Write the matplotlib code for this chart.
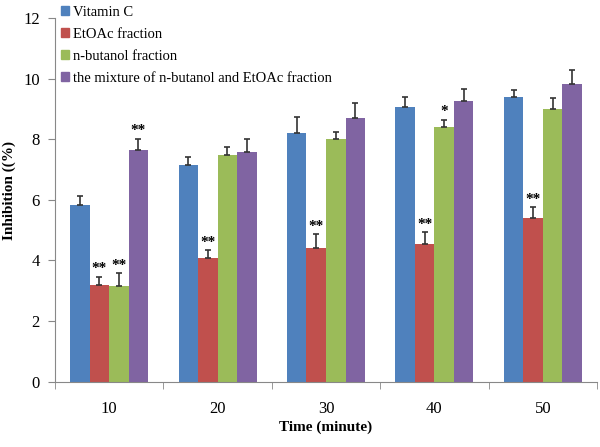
import matplotlib
matplotlib.use("Agg")
import matplotlib.pyplot as plt
import numpy as np
from matplotlib.patches import Patch

times = ["10", "20", "30", "40", "50"]
series_names = ["Vitamin C", "EtOAc fraction", "n-butanol fraction",
                "the mixture of n-butanol and EtOAc fraction"]
vitamin_c = [5.82, 7.15, 8.21, 9.07, 9.38]
vitamin_c_err = [0.32, 0.27, 0.51, 0.32, 0.25]
etoac = [3.20, 4.07, 4.40, 4.55, 5.39]
etoac_err = [0.27, 0.26, 0.46, 0.38, 0.37]
butanol = [3.15, 7.47, 8.01, 8.39, 9.01]
butanol_err = [0.43, 0.28, 0.23, 0.25, 0.36]
mixture = [7.66, 7.58, 8.71, 9.26, 9.81]
mixture_err = [0.36, 0.42, 0.47, 0.40, 0.49]

# significance marks
vitamin_c_sig = ["", "", "", "", ""]
etoac_sig = ["**", "**", "**", "**", "**"]
butanol_sig = ["**", "", "", "*", ""]
mixture_sig = ["**", "", "", "", ""]

colors = ["#4F81BD", "#C0504D", "#9BBB59", "#8064A2"]

plt.rcParams["font.family"] = ["Liberation Serif", "DejaVu Serif"]

fig = plt.figure(figsize=(6, 4.47), dpi=100)
ax = fig.add_axes([55 / 600, 1 - 381.7 / 447, 542 / 600, 363.7 / 447])

x = np.arange(len(times))
w = 0.18
values = [vitamin_c, etoac, butanol, mixture]
errs = [vitamin_c_err, etoac_err, butanol_err, mixture_err]
sigs = [vitamin_c_sig, etoac_sig, butanol_sig, mixture_sig]

for i in range(4):
    pos = x + (i - 1.5) * w
    ax.bar(pos, values[i], w, color=colors[i], zorder=2)
    ax.errorbar(pos, values[i], yerr=[np.zeros(len(times)), errs[i]],
                fmt="none", ecolor="#333333", elinewidth=1.2, capsize=2.5,
                capthick=1.2, zorder=3)
    for j in range(len(times)):
        if sigs[i][j]:
            ax.annotate(sigs[i][j], (pos[j], values[i][j] + errs[i][j]),
                        xytext=(0, 1), textcoords="offset points",
                        ha="center", va="bottom", fontsize=11,
                        fontweight="bold")

ax.set_xlim(-0.5, 4.5)
ax.set_ylim(0, 12)
ax.set_yticks([0, 2, 4, 6, 8, 10, 12])
ax.set_xticks(x)
ax.set_xticklabels(times)
ax.set_xticks(np.arange(-0.5, 5, 1), minor=True)
ax.tick_params(axis="x", which="major", length=0, pad=14, labelsize=12)
ax.tick_params(axis="x", which="minor", length=5, color="#888888")
ax.tick_params(axis="y", length=5, color="#888888", labelsize=12, pad=6)

for s in ["top", "right"]:
    ax.spines[s].set_visible(False)
ax.spines["left"].set_color("#888888")
ax.spines["bottom"].set_color("#888888")

ax.set_xlabel("Time (minute)", fontweight="bold", fontsize=11)
ax.set_ylabel("Inhibition ((%)", fontweight="bold", fontsize=11)
ax.xaxis.set_label_coords(0.5, -0.108)
ax.yaxis.set_label_coords(-0.072, 0.527)

handles = [Patch(color=c) for c in colors]
ax.legend(handles, series_names, loc="upper left",
          bbox_to_anchor=(0.0, 1.05), frameon=False, fontsize=10.5,
          handlelength=0.55, handleheight=0.55, handletextpad=0.3,
          labelspacing=0.62, borderaxespad=0)

fig.savefig("out.png", dpi=100)
